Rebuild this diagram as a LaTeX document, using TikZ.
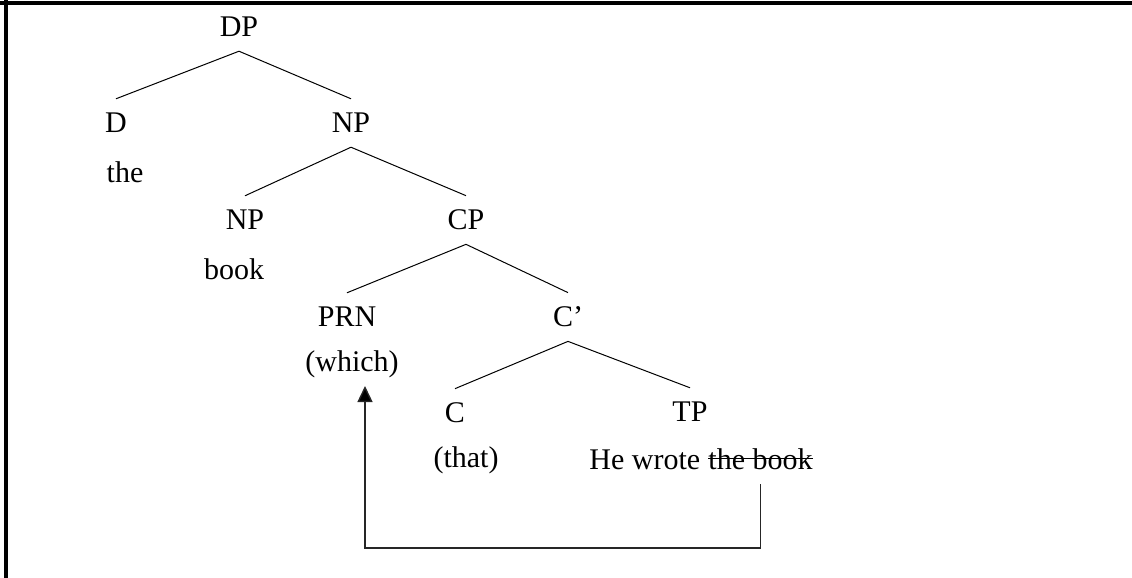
\documentclass[tikz,border=0pt]{standalone}
\usepackage{fontspec}
\setmainfont{Liberation Serif}
\usetikzlibrary{arrows.meta}

\begin{document}
\begin{tikzpicture}[x=0.5pt,y=-0.5pt,
  every node/.style={font=\fontsize{15}{18}\selectfont},
  cat/.style={inner sep=7pt, text depth=0pt},
  word/.style={inner sep=2pt},
  branch/.style={line width=0.5pt},
  move/.style={line width=0.7pt, draw=black!85, -{Triangle[width=7.5pt,length=8pt,fill=black]}}]

\useasboundingbox (0,0) rectangle (1132,578);

% frame (only top and left edges show)
\draw[line width=1.6pt] (0,3) -- (1132,3);
\draw[line width=1.6pt] (6,0) -- (6,578);

% labels
\node[cat] (dp) at (239,27) {DP};
\node[cat] (d) at (116,123) {D};
\node[cat] (np) at (351,123) {NP};
\node[word] (the) at (125,172) {the};
\node[cat] (nb) at (245,220) {NP};
\node[cat] (cp) at (466,220) {CP};
\node[word] (book) at (234,269) {book};
\node[cat] (prn) at (347,317) {PRN};
\node[cat] (cbar) at (568,317) {C’};
\node[word] (which) at (352,364) {(which)};
\node[cat] (c) at (455,413) {C};
\node[cat] (tp) at (690,412) {TP};
\node[word] (that) at (466,460) {(that)};
\node[word, inner xsep=0pt, anchor=west] (he) at (589,460) {He wrote};
\node[word, inner xsep=0pt, anchor=base west] (tb) at ([xshift=3.75pt]he.base east) {the book};
% struck-out copy
\draw[line width=0.75pt] ([yshift=5.5pt]tb.base west) -- ([yshift=5.5pt]tb.base east);

% branches
\draw[branch] (dp.south) -- (d.north);
\draw[branch] (dp.south) -- (np.north);
\draw[branch] (np.south) -- (nb.north);
\draw[branch] (np.south) -- (cp.north);
\draw[branch] (cp.south) -- (prn.north);
\draw[branch] (cp.south) -- (cbar.north);
\draw[branch] (cbar.south) -- (c.north);
\draw[branch] (cbar.south) -- (tp.north);

% movement of the relative pronoun
\coordinate (low) at (0,548);
\draw[move] ([yshift=-5pt]tb.south) -- (tb.south |- low) -| ([xshift=6.5pt,yshift=-2pt]which.south);

\end{tikzpicture}
\end{document}
